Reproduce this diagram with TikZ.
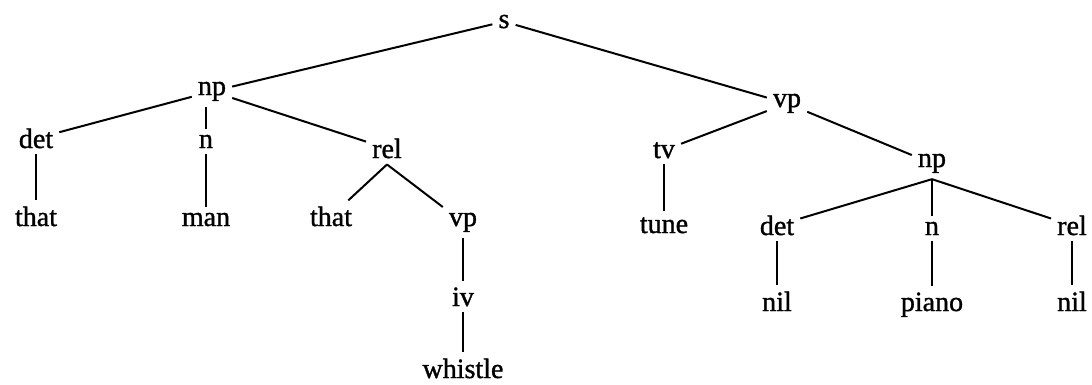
\documentclass[tikz,border=0pt]{standalone}
\usepackage{fontspec}
\setmainfont{Liberation Serif}
\newfontfamily\treefont{Liberation Serif}[FakeBold=1.2]
\tikzset{
  cat/.style = {inner sep=6pt, anchor=base, font=\treefont\fontsize{28}{32}\selectfont},
  branch/.style = {line width=2pt}
}

\begin{document}
\begin{tikzpicture}[x=1pt,y=-1pt]

  \useasboundingbox (0,0) rectangle (1092,384);

  % sentence and the subject
  \node[cat] (s) at (504,28) {s};
  \node[cat] (np) at (212,95) {np};
  \node[cat] (det) at (36,148) {det};
  \node[cat] (n) at (206,148) {n};
  \node[cat] (rel) at (387,158) {rel};
  \node[cat] (that) at (36,226) {that};
  \node[cat] (man) at (206,226) {man};
  \node[cat] (relthat) at (331,226) {that};
  \node[cat] (relvp) at (463,226) {vp};
  \node[cat] (iv) at (463,306) {iv};
  \node[cat] (whistle) at (463,378) {whistle};

  % the verb phrase
  \node[cat] (vp) at (787,107) {vp};
  \node[cat] (tv) at (664,158) {tv};
  \node[cat] (tune) at (664,233) {tune};
  \node[cat] (objnp) at (932,167) {np};
  \node[cat] (objdet) at (777,235) {det};
  \node[cat] (objn) at (932,235) {n};
  \node[cat] (objrel) at (1072,235) {rel};
  \node[cat] (nilA) at (777,311) {nil};
  \node[cat] (piano) at (932,311) {piano};
  \node[cat] (nilB) at (1072,311) {nil};

  \draw[branch] (s) -- (np);
  \draw[branch] (s) -- (vp);
  \draw[branch] (np) -- (det);
  \draw[branch] (n |- np.south) -- (n);
  \draw[branch] (np) -- (rel);
  \draw[branch] (det) -- (that);
  \draw[branch] (n) -- (man);
  \draw[branch] (rel.south) -- (relthat);
  \draw[branch] (rel.south) -- (relvp);
  \draw[branch] (relvp) -- (iv);
  \draw[branch] (iv) -- (whistle);

  \draw[branch] (vp) -- (tv);
  \draw[branch] (vp) -- (objnp);
  \draw[branch] (tv) -- (tune);
  \draw[branch] (objnp.south) -- (objdet);
  \draw[branch] (objnp) -- (objn);
  \draw[branch] (objnp.south) -- (objrel);
  \draw[branch] (objdet) -- (nilA);
  \draw[branch] (objn) -- (piano);
  \draw[branch] (objrel) -- (nilB);
\end{tikzpicture}
\end{document}
